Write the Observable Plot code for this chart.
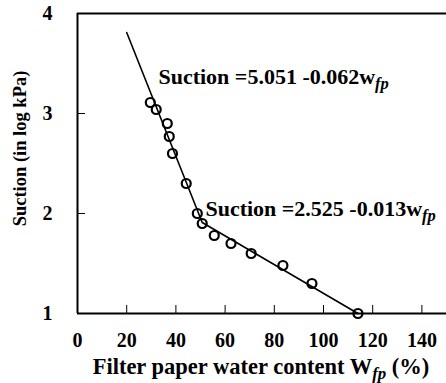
<!DOCTYPE html>
<html>
<head>
<meta charset="utf-8">
<script src="https://cdn.jsdelivr.net/npm/d3@7"></script>
<script src="https://cdn.jsdelivr.net/npm/@observablehq/plot@0.6"></script>
<style>
  html, body { margin: 0; padding: 0; background: #fff; }
  #chart svg, #chart svg text { font-family: "Liberation Serif", "Times New Roman", serif !important; font-weight: bold; }
</style>
</head>
<body>
<div id="chart"></div>
<script>
// Measured points
const waterContent = [29.6, 32.0, 36.5, 37.3, 38.6, 44.2, 48.7, 50.7, 55.6, 62.4, 70.6, 83.5, 95.3, 114.0];
const suction      = [3.11, 3.04, 2.90, 2.77, 2.60, 2.30, 2.00, 1.90, 1.78, 1.70, 1.60, 1.48, 1.30, 1.00];

// Bilinear fitted line
const fitX = [20, 50.7, 114.0];
const fitY = [3.81, 1.91, 1.00];

// Tick values
const xTicks = [0, 20, 40, 60, 80, 100, 120, 140];
const yTicks = [1, 2, 3, 4];

// Annotations
const eqText = ["Suction =5.051 -0.062w{fp}", "Suction =2.525 -0.013w{fp}"];
const eqX = [32.9, 52.0];
const eqY = [3.37, 2.05];

const xTitle = "Filter paper water content W{fp} (%)";
const yTitle = "Suction (in log kPa)";

const points = waterContent.map((x, i) => ({x, y: suction[i]}));
const fit = fitX.map((x, i) => ({x, y: fitY[i]}));
const eqs = eqText.map((t, i) => ({t, x: eqX[i], y: eqY[i]}));

const font = "Liberation Serif";

const chart = Plot.plot({
  width: 446,
  height: 383,
  marginLeft: 77,
  marginTop: 13,
  marginBottom: 70,
  marginRight: 0,
  style: {fontFamily: font, fontWeight: "bold", fontSize: "20px", color: "#000", background: "#fff"},
  x: {domain: [0, 150], label: null},
  y: {domain: [1, 4], label: null},
  marks: [
    Plot.ruleX([0], {stroke: "#000", strokeWidth: 2}),
    Plot.ruleY([1], {stroke: "#000", strokeWidth: 2}),
    Plot.ruleY([4], {stroke: "#000", strokeWidth: 2}),
    Plot.axisX(xTicks, {tickSize: -8, text: null, stroke: "#000", label: null}),
    Plot.axisX(xTicks, {tickSize: 0, tickPadding: 19, label: null, tickFormat: "d", fontSize: 20, fontFamily: font, fill: "#000"}),
    Plot.axisY(yTicks, {tickSize: -8, text: null, stroke: "#000", label: null}),
    Plot.axisY(yTicks, {tickSize: 0, tickPadding: 25, label: null, tickFormat: "d", fontSize: 20, fontFamily: font, fill: "#000"}),
    Plot.line(fit, {x: "x", y: "y", stroke: "#000", strokeWidth: 1.6}),
    Plot.dot(points, {x: "x", y: "y", r: 4.5, stroke: "#000", strokeWidth: 2.2, fill: "none"}),
    Plot.text(eqs, {x: "x", y: "y", text: "t", textAnchor: "start", fontSize: 22, fontFamily: font, fill: "#000"}),
    Plot.text([xTitle], {frameAnchor: "bottom", textAnchor: "middle", lineAnchor: "middle", dy: 53, dx: -1, fontSize: 22.5, fontFamily: font, fill: "#000"}),
    Plot.text([yTitle], {frameAnchor: "left", textAnchor: "middle", lineAnchor: "middle", dx: -57, dy: -15, rotate: -90, fontSize: 18.5, fontFamily: font, fill: "#000"})
  ]
});

// rich text: {..} becomes italic subscript
d3.select(chart).selectAll("text").each(function() {
  const s = this.textContent;
  if (!s.includes("{")) return;
  const el = d3.select(this);
  el.text(null);
  const parts = s.split(/(\{[^}]*\})/);
  let sub = false;
  for (const p of parts) {
    if (!p) continue;
    if (p.startsWith("{")) {
      el.append("tspan").attr("font-style", "italic").attr("font-size", "0.75em").attr("dy", "0.3em").text(p.slice(1, -1));
      sub = true;
    } else {
      const t = el.append("tspan").text(p);
      if (sub) { t.attr("dy", "-0.225em"); sub = false; }
    }
  }
});

document.getElementById("chart").appendChild(chart);
</script>
</body>
</html>
